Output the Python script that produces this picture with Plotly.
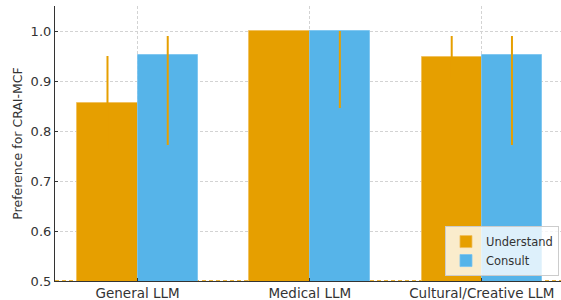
import plotly.graph_objects as go

categories = ["General LLM", "Medical LLM", "Cultural/Creative LLM"]
understand = [0.857, 1.0, 0.948]
understand_err_plus = [0.093, 0.0, 0.042]
understand_err_minus = [0.093, 0.0, 0.042]
consult = [0.952, 1.0, 0.952]
consult_err_plus = [0.038, 0.0, 0.038]
consult_err_minus = [0.180, 0.154, 0.180]

ORANGE = "#E69F00"
BLUE = "#56B4E9"
x = list(range(len(categories)))
w = 0.35

fig = go.Figure()
fig.add_trace(go.Bar(
    x=[i - w / 2 for i in x], y=understand, width=w, name="Understand",
    marker=dict(color=ORANGE, line=dict(color="rgba(240,190,90,0.8)", width=1)),
    error_y=dict(type="data", array=understand_err_plus, arrayminus=understand_err_minus,
                 color=ORANGE, thickness=2, width=0),
))
fig.add_trace(go.Bar(
    x=[i + w / 2 for i in x], y=consult, width=w, name="Consult",
    marker=dict(color=BLUE, line=dict(color="rgba(120,195,240,0.8)", width=1)),
    error_y=dict(type="data", array=consult_err_plus, arrayminus=consult_err_minus,
                 color=ORANGE, thickness=2, width=0),
))

fig.add_shape(type="line", xref="paper", yref="y", x0=0, x1=1, y0=0.5, y1=0.5,
              line=dict(color=ORANGE, width=1.5, dash="4px,3px"), layer="below")

GRID = dict(showgrid=True, gridcolor="#d3d3d3", griddash="3px,2px", gridwidth=1)

fig.update_layout(
    width=561, height=300,
    margin=dict(l=55, r=0, t=6, b=19, autoexpand=False),
    plot_bgcolor="white", paper_bgcolor="white",
    font=dict(family="DejaVu Sans", size=12, color="#333333"),
    barmode="overlay", bargap=0,
    showlegend=True,
    legend=dict(x=0.996, y=0.018, xanchor="right", yanchor="bottom",
                bgcolor="rgba(255,255,255,0.8)", bordercolor="#cccccc", borderwidth=1,
                font=dict(size=11.5, color="#333333"), tracegroupgap=0,
                itemwidth=30),
    xaxis=dict(range=[-0.48, 2.46], tickmode="array", tickvals=x, ticktext=categories,
               **GRID,
               showline=True, linecolor="#333333", linewidth=1.2,
               ticks="inside", ticklen=3, tickcolor="#333333", zeroline=False,
               tickfont=dict(size=13.5), automargin=False),
    yaxis=dict(range=[0.5, 1.05], tickvals=[0.5, 0.6, 0.7, 0.8, 0.9, 1.0],
               ticktext=["0.5", "0.6", "0.7", "0.8", "0.9", "1.0"],
               **GRID,
               showline=True, linecolor="#333333", linewidth=1.2, zeroline=False,
               ticks="inside", ticklen=3, tickcolor="#333333",
               tickfont=dict(size=13), automargin=False,
               title=dict(text="Preference for CRAI-MCF", font=dict(size=12.5), standoff=5)),
)

fig.write_html("out.html", config={"displayModeBar": False},
               post_script="document.body.style.margin='0';document.body.style.overflow='hidden';")
